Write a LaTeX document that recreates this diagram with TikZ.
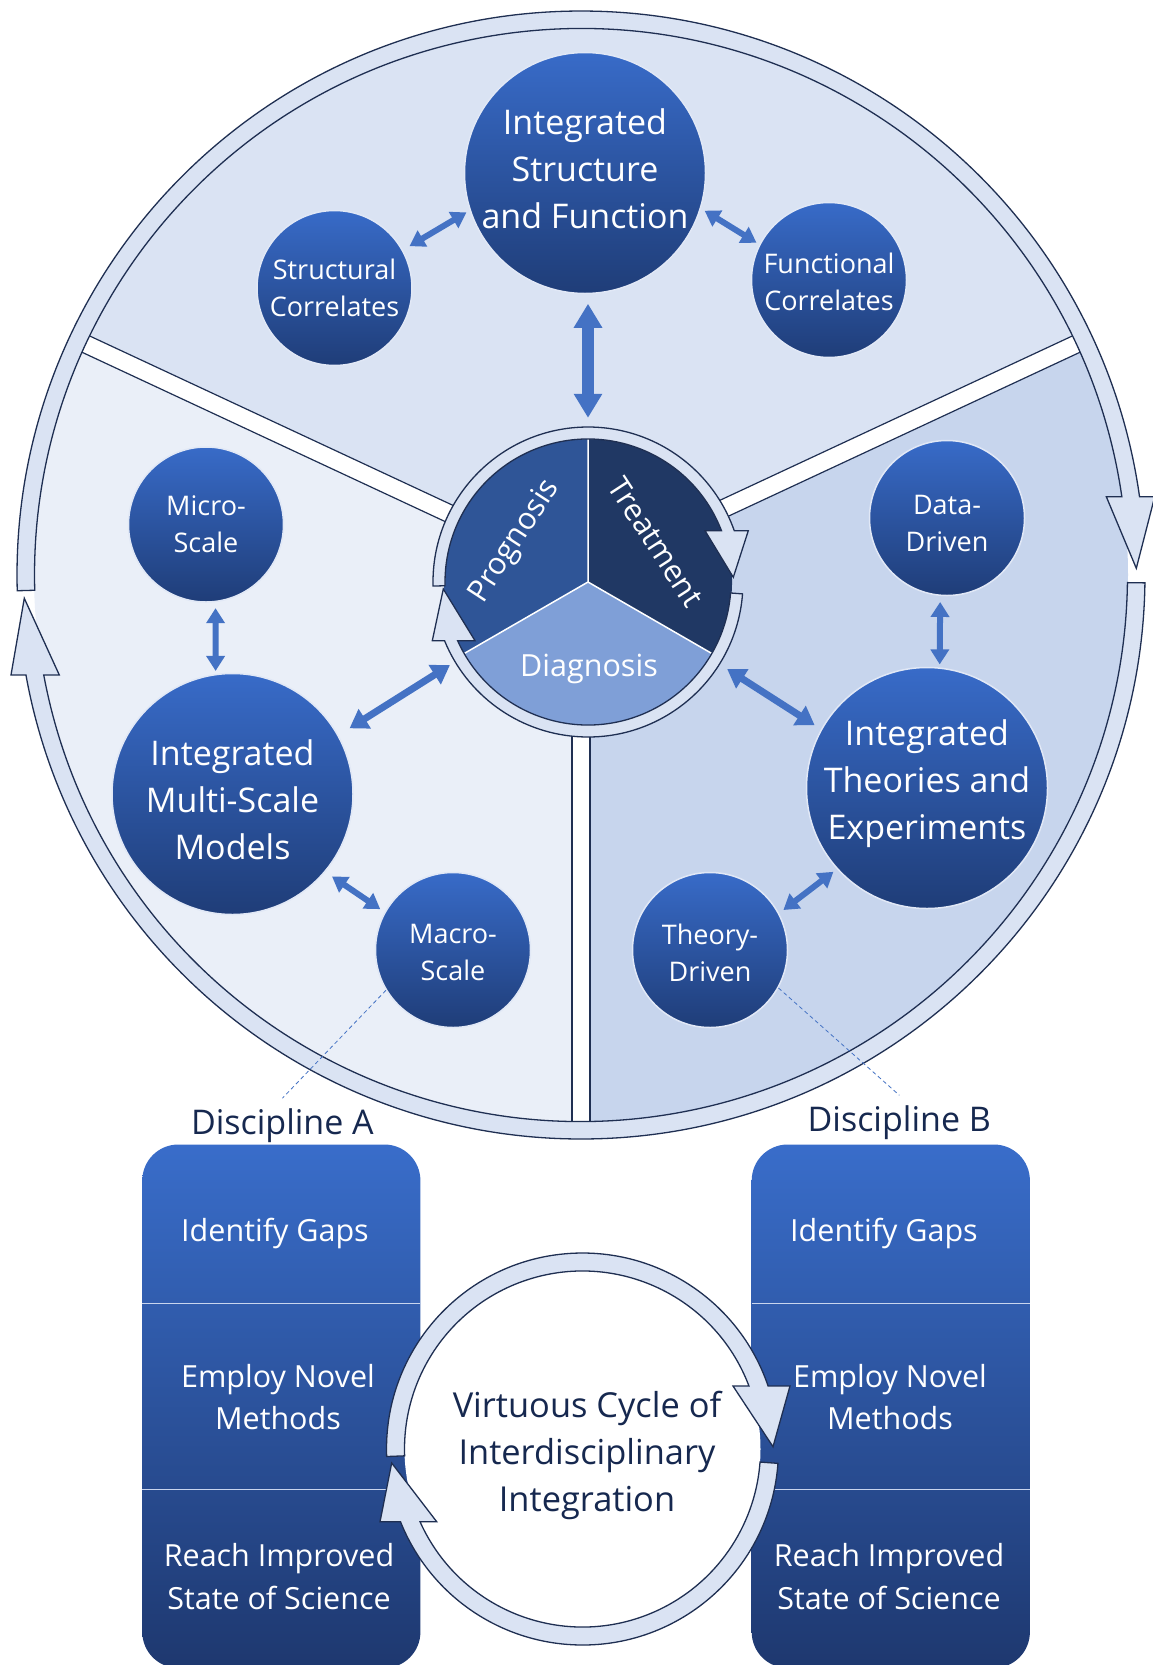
\documentclass[tikz,border=0pt]{standalone}
\usepackage{fontspec}
\setmainfont{Open Sans}
\usetikzlibrary{arrows.meta,calc}
\definecolor{navyline}{HTML}{1F2F52}
\definecolor{ringfill}{HTML}{DAE3F3}
\definecolor{sectop}{HTML}{DAE3F3}
\definecolor{secleft}{HTML}{EAEFF8}
\definecolor{secright}{HTML}{C7D5ED}
\definecolor{bubtop}{HTML}{386BC8}
\definecolor{bubbot}{HTML}{1F3D78}
\definecolor{bubline}{HTML}{E1E8F6}
\definecolor{arrowblue}{HTML}{4472C4}
\definecolor{prog}{HTML}{2F5597}
\definecolor{treat}{HTML}{203864}
\definecolor{diag}{HTML}{7F9FD7}
\definecolor{darktext}{HTML}{16284F}
\definecolor{coltop}{HTML}{396DCA}
\definecolor{colbot}{HTML}{1E386F}
\definecolor{sepcol}{HTML}{C9D5EE}
\begin{document}
\begin{tikzpicture}[x=1pt,y=1pt,
  bubble/.style={circle, draw=bubline, line width=1.5pt, top color=bubtop, bottom color=bubbot, inner sep=0pt},
  bigbub/.style={bubble, minimum size=241pt},
  smallbub/.style={bubble, minimum size=155pt},
  bigtxt/.style={text=white, align=center, inner sep=0pt, font=\fontsize{34}{47}\selectfont},
  smalltxt/.style={text=white, align=center, inner sep=0pt, font=\fontsize{27}{37}\selectfont},
  ringarrow/.style={draw=navyline, line width=1.3pt, fill=ringfill, line join=miter},
  bandstyle/.style={draw=navyline, line width=1.2pt, fill=white},
  dbl/.style={draw=arrowblue, line width=6pt, {Triangle[width=18pt,length=15pt]}-{Triangle[width=18pt,length=15pt]}},
  dblbig/.style={draw=arrowblue, line width=7pt, {Triangle[width=22pt,length=18pt]}-{Triangle[width=22pt,length=18pt]}},
  dblhuge/.style={draw=arrowblue, line width=12pt, {Triangle[width=27pt,length=24pt]}-{Triangle[width=27pt,length=24pt]}},
  pielabel/.style={text=white, font=\fontsize{30.5}{36}\selectfont, inner sep=0pt},
  coltext/.style={text=white, align=center, font=\fontsize{30.5}{42.5}\selectfont, inner sep=0pt},
  disclabel/.style={text=darktext, font=\fontsize{34}{40}\selectfont, inner xsep=0pt, inner ysep=9.8pt},
  dashline/.style={draw=arrowblue, line width=0.8pt, dash pattern=on 4pt off 3pt},
  sepline/.style={draw=sepcol, line width=1.2pt}
]
\useasboundingbox (0,0) rectangle (1153,-1665);
\fill[white] (0,0) rectangle (1153,-1665);

% ---------- big disc sectors ----------
\begin{scope}[shift={(581,-575)}]
  \fill[sectop] (0,0) -- (25:547pt) arc[start angle=25, end angle=155, radius=547pt] -- cycle;
  \fill[secleft] (0,0) -- (155:547pt) arc[start angle=155, end angle=270, radius=547pt] -- cycle;
  \fill[secright] (0,0) -- (270:547pt) arc[start angle=270, end angle=385, radius=547pt] -- cycle;
  % white separator bands
  \draw[bandstyle, rotate=25] (60,-9) rectangle (548,9);
  \draw[bandstyle, rotate=155] (60,-9) rectangle (548,9);
  \draw[bandstyle, rotate=270] (60,-9) rectangle (548,9);
  % outer ring arrows
  \draw[ringarrow] (181.6:564pt) arc[start angle=181.6, end angle=7.98, radius=564pt]
    -- (573.7,78.3) -- (555.3,6.7) -- (525.3,78.3)
    -- (8.24:546.5pt) arc[start angle=8.24, end angle=181.6, radius=546.5pt] -- cycle;
  \draw[ringarrow] (-0.8:564pt) arc[start angle=-0.8, end angle=-169.79, radius=564pt]
    -- (-570,-100) -- (-556.7,-23.3) -- (-521.7,-100)
    -- (-169.46:546.5pt) arc[start angle=-169.46, end angle=-0.8, radius=546.5pt] -- cycle;
\end{scope}

% ---------- central pie ----------
\begin{scope}[shift={(588,-582)}]
  \fill[prog] (0,0) -- (90:144pt) arc[start angle=90, end angle=210, radius=144pt] -- cycle;
  \fill[treat] (0,0) -- (-30:144pt) arc[start angle=-30, end angle=90, radius=144pt] -- cycle;
  \fill[diag] (0,0) -- (210:144pt) arc[start angle=210, end angle=330, radius=144pt] -- cycle;
  \draw[white, line width=1.5pt] (0,0) -- (90:144pt) (0,0) -- (210:144pt) (0,0) -- (330:144pt);
  \draw[ringarrow] (181.5:155pt) arc[start angle=181.5, end angle=19.32, radius=155pt]
    -- (160.3,51.3) -- (145.3,4.7) -- (117,51.3)
    -- (21.02:143pt) arc[start angle=21.02, end angle=181.5, radius=143pt] -- cycle;
  \draw[ringarrow] (-4.4:155pt) arc[start angle=-4.4, end angle=-157.75, radius=155pt]
    -- (-155.7,-58.7) -- (-144.7,-7) -- (-113,-58.7)
    -- (-155.76:143pt) arc[start angle=-155.76, end angle=-4.4, radius=143pt] -- cycle;
\end{scope}
\node[circle, minimum size=310pt, inner sep=0pt] (pie) at (588,-582) {};
\node[pielabel, rotate=57] (progl) at (515,-541.5) {Prognosis};
\node[pielabel, rotate=-57] (treatl) at (656,-542) {Treatment};
\node[pielabel] (diagl) at (589,-669.3) {Diagnosis};

% ---------- bubbles ----------
\node[bigbub] (isf) at (585,-173) {};
\node[bigtxt] (isft) at (585,-168.8) {Integrated\\Structure\\and Function};
\node[smallbub] (sc) at (334.5,-288) {};
\node[smalltxt] (sct) at (334.5,-288) {Structural\\Correlates};
\node[smallbub] (fc) at (829,-280) {};
\node[smalltxt] (fct) at (829,-281.5) {Functional\\Correlates};
\node[smallbub] (mic) at (206,-524.5) {};
\node[smalltxt] (mict) at (206,-524.5) {Micro-\\Scale};
\node[bigbub] (imsm) at (232.5,-794) {};
\node[bigtxt] (imsmt) at (232.5,-799.3) {Integrated\\Multi-Scale\\Models};
\node[smallbub] (mac) at (453,-950) {};
\node[smalltxt] (mact) at (453,-952) {Macro-\\Scale};
\node[smallbub] (dd) at (947,-518) {};
\node[smalltxt] (ddt) at (947,-523.8) {Data-\\Driven};
\node[bigbub] (ite) at (927,-788) {};
\node[bigtxt] (itet) at (927,-783.2) {Integrated\\Theories and\\Experiments};
\node[smallbub] (td) at (710,-950) {};
\node[smalltxt] (tdt) at (710,-952.7) {Theory-\\Driven};

% ---------- double arrows ----------
\draw[dbl, shorten <=7.7pt, shorten >=3.8pt] (sc.29.3) -- (isf.198.4);
\draw[dbl, shorten <=4.3pt, shorten >=3.3pt] (isf.-17.1) -- (fc.153.9);
\draw[dblhuge, shorten <=9.5pt, shorten >=9pt] (isf.south -| pie.north) -- (pie.north);
\draw[dbl, shorten <=6pt, shorten >=3pt] (mic.-83) -- (imsm.98);
\draw[dblbig, shorten <=13pt, shorten >=6pt] (imsm.29.1) -- (pie.211.8);
\draw[dbl, shorten <=8pt, shorten >=5.2pt] (imsm.-40.1) -- (mac.151.9);
\draw[dblbig, shorten <=9pt, shorten >=7.5pt] (pie.-32) -- (ite.151.3);
\draw[dbl, shorten <=6pt, shorten >=3pt] (dd.-95.8) -- (ite.84.7);
\draw[dbl, shorten <=4.4pt, shorten >=5.4pt] (ite.222.5) -- (td.28.9);

% ---------- discipline labels and dashed leaders ----------
\node[disclabel] (discA) at (282.4,-1125.2) {Discipline A};
\node[disclabel] (discB) at (899.3,-1122.2) {Discipline B};
\draw[dashline] (mac.211) -- (discA.north);
\draw[dashline] (td.-29.3) -- (discB.north);

% ---------- columns ----------
\shade[top color=coltop, bottom color=colbot, rounded corners=36pt] (142.3,-1144.5) rectangle (420.4,-1668);
\shade[top color=coltop, bottom color=colbot, rounded corners=36pt] (751.7,-1144.5) rectangle (1029.9,-1668);
\draw[sepline] (142.3,-1303.8) -- (420.4,-1303.8);
\draw[sepline] (142.3,-1489.6) -- (420.4,-1489.6);
\draw[sepline] (751.7,-1303.8) -- (1029.9,-1303.8);
\draw[sepline] (751.7,-1489.6) -- (1029.9,-1489.6);
\node[coltext] (a1) at (275,-1233.7) {Identify Gaps};
\node[coltext] (a2) at (278,-1397) {Employ Novel\\Methods};
\node[coltext] (a3) at (279,-1576.6) {Reach Improved\\State of Science};
\node[coltext] (b1) at (884,-1233.7) {Identify Gaps};
\node[coltext] (b2) at (890,-1397) {Employ Novel\\Methods};
\node[coltext] (b3) at (889,-1576.6) {Reach Improved\\State of Science};

% ---------- virtuous cycle ----------
\begin{scope}[shift={(582.5,-1449)}]
  \fill[white] (0,0) circle[radius=178pt];
  \draw[ringarrow] (182.2:196pt) arc[start angle=182.2, end angle=18.75, radius=196pt]
    -- (207.5,63) -- (190.5,2.3) -- (150.5,63)
    -- (20.73:178pt) arc[start angle=20.73, end angle=182.2, radius=178pt] -- cycle;
  \draw[ringarrow] (-4.2:196pt) arc[start angle=-4.2, end angle=-158.23, radius=196pt]
    -- (-202.5,-72.7) -- (-190.8,-14) -- (-145.8,-72.7)
    -- (-155.89:178pt) arc[start angle=-155.89, end angle=-4.2, radius=178pt] -- cycle;
\end{scope}
\node[text=darktext, align=center, font=\fontsize{34.4}{47}\selectfont, inner sep=0pt] (vc) at (587,-1455.7)
  {Virtuous Cycle of\\Interdisciplinary\\Integration};
\end{tikzpicture}
\end{document}
